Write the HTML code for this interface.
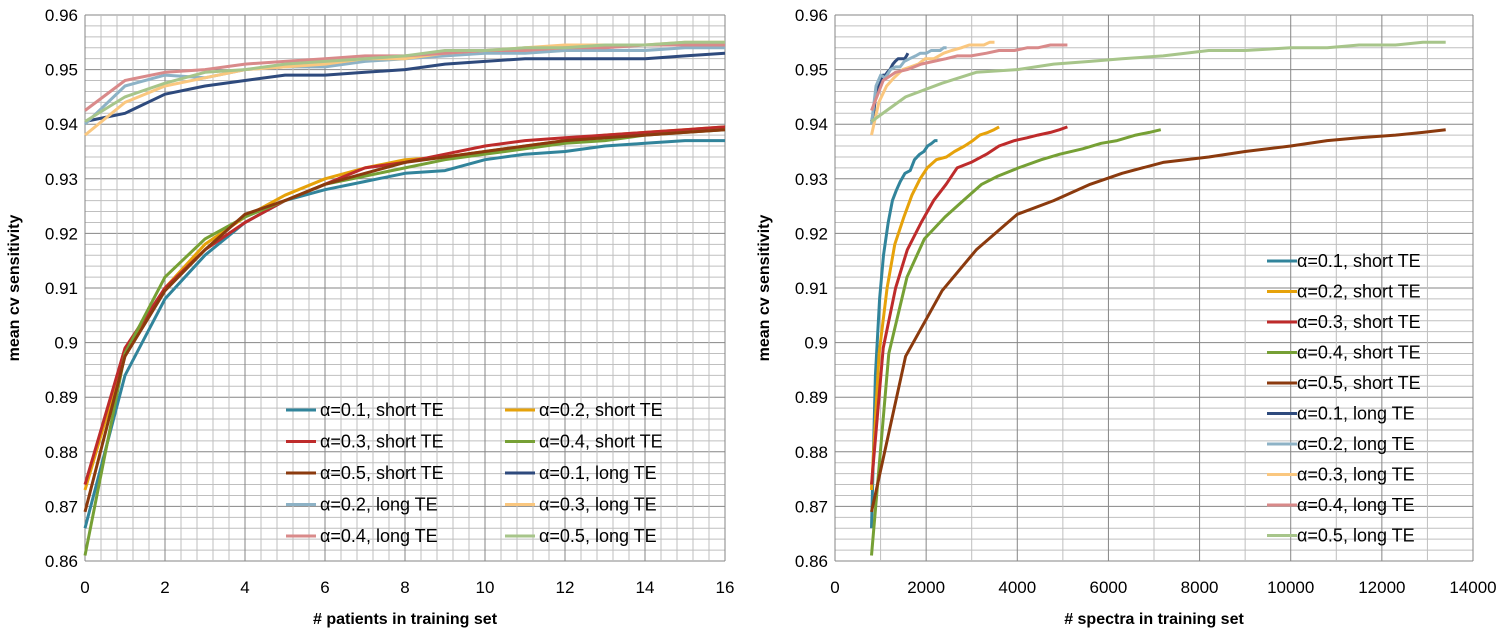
<!DOCTYPE html>
<html><head><meta charset="utf-8">
<style>
html,body{margin:0;padding:0;background:#fff;}
svg{display:block;font-family:"Liberation Sans",sans-serif;}
</style></head>
<body>
<svg id="chart" width="1505" height="633" viewBox="0 0 1505 633" xmlns="http://www.w3.org/2000/svg"></svg>
<script>
const seriesNames = ["α=0.1, short TE","α=0.2, short TE","α=0.3, short TE","α=0.4, short TE","α=0.5, short TE","α=0.1, long TE","α=0.2, long TE","α=0.3, long TE","α=0.4, long TE","α=0.5, long TE"];
const seriesColors = ["#31849B","#E6A20A","#BE2B2B","#76A035","#8B3A0E","#2E4A7D","#8DB2C6","#FAC77F","#D98A8A","#A7C58A"];
const patients = [0,1,2,3,4,5,6,7,8,9,10,11,12,13,14,15,16];
const sens01s = [0.866,0.894,0.908,0.916,0.922,0.926,0.928,0.9295,0.931,0.9315,0.9335,0.9345,0.935,0.936,0.9365,0.937,0.937];
const sens02s = [0.873,0.898,0.910,0.918,0.923,0.927,0.930,0.932,0.9335,0.934,0.935,0.936,0.937,0.938,0.9385,0.939,0.9395];
const sens03s = [0.874,0.899,0.910,0.917,0.922,0.926,0.929,0.932,0.933,0.9345,0.936,0.937,0.9375,0.938,0.9385,0.939,0.9395];
const sens04s = [0.861,0.898,0.912,0.919,0.923,0.926,0.929,0.9305,0.932,0.9335,0.9345,0.9355,0.9365,0.937,0.938,0.9385,0.939];
const sens05s = [0.869,0.8975,0.9095,0.917,0.9235,0.926,0.929,0.931,0.933,0.934,0.935,0.936,0.937,0.9375,0.938,0.9385,0.939];
const sens01l = [0.9405,0.942,0.9455,0.947,0.948,0.949,0.949,0.9495,0.950,0.951,0.9515,0.952,0.952,0.952,0.952,0.9525,0.953];
const sens02l = [0.940,0.947,0.949,0.9485,0.950,0.9505,0.9505,0.9515,0.952,0.9525,0.953,0.953,0.9535,0.9535,0.9535,0.954,0.954];
const sens03l = [0.938,0.944,0.947,0.9485,0.950,0.9505,0.951,0.952,0.952,0.953,0.9535,0.954,0.9545,0.9545,0.9545,0.955,0.955];
const sens04l = [0.9425,0.948,0.9495,0.950,0.951,0.9515,0.952,0.9525,0.9525,0.953,0.9535,0.9535,0.954,0.954,0.9545,0.9545,0.9545];
const sens05l = [0.9405,0.945,0.9475,0.9495,0.950,0.951,0.9515,0.952,0.9525,0.9535,0.9535,0.954,0.954,0.9545,0.9545,0.955,0.955];
const spec01s = [800,887,978,1065,1168,1260,1352,1434,1537,1651,1744,1858,1951,2031,2124,2192,2250];
const spec02s = [800,968,1144,1312,1511,1688,1867,2024,2222,2444,2623,2844,3023,3177,3356,3488,3600];
const spec03s = [800,1058,1329,1587,1892,2163,2438,2679,2984,3324,3599,3939,4214,4451,4726,4928,5100];
const spec04s = [800,1181,1581,1962,2413,2813,3219,3575,4026,4527,4934,5436,5842,6191,6598,6896,7150];
const spec05s = [800,1550,2350,3100,4000,4800,5600,6300,7200,8200,9000,10000,10800,11500,12300,12900,13400];
const spec01l = [800,848,898,946,1003,1054,1105,1150,1206,1270,1321,1384,1435,1479,1530,1568,1600];
const spec02l = [800,899,1003,1102,1219,1323,1429,1521,1638,1769,1874,2005,2110,2201,2306,2384,2450];
const spec03l = [800,962,1132,1294,1486,1656,1829,1980,2172,2385,2558,2771,2944,3092,3265,3392,3500];
const spec04l = [800,1058,1329,1587,1892,2163,2438,2679,2984,3324,3599,3939,4214,4451,4726,4928,5100];
const spec05l = [800,1550,2350,3100,4000,4800,5600,6300,7200,8200,9000,10000,10800,11500,12300,12900,13400];
const yTicks = ["0.86","0.87","0.88","0.89","0.9","0.91","0.92","0.93","0.94","0.95","0.96"];
const xTicksL = ["0","2","4","6","8","10","12","14","16"];
const xTicksR = ["0","2000","4000","6000","8000","10000","12000","14000"];

const sensAll = [sens01s,sens02s,sens03s,sens04s,sens05s,sens01l,sens02l,sens03l,sens04l,sens05l];
const specAll = [spec01s,spec02s,spec03s,spec04s,spec05s,spec01l,spec02l,spec03l,spec04l,spec05l];

const NS="http://www.w3.org/2000/svg";
const svg=document.getElementById('chart');
function mk(tag,attrs,parent){const e=document.createElementNS(NS,tag);for(const k in attrs)e.setAttribute(k,attrs[k]);(parent||svg).appendChild(e);return e;}

const Y0=561,Y1=15,YMIN=0.86,YMAX=0.96;
const yScale=v=>Y0-(v-YMIN)/(YMAX-YMIN)*(Y0-Y1);

function panel(name,left,right,xmax,xMinorStep,xMajorStep,xTicks,xs,title,legendFn){
  const g=mk('g',{});
  
  
  const xScale=v=>left+v/xmax*(right-left);
  for(let i=0;i<=50;i++){const v=YMIN+i*0.002;const y=yScale(v);
    mk('line',{x1:left,x2:right,y1:y,y2:y,stroke:i%5==0?'#868686':'#BFBFBF','stroke-width':1},g);}
  for(let v=0;v<=xmax+1e-9;v+=xMinorStep){const x=xScale(v);const major=Math.abs(v/xMajorStep-Math.round(v/xMajorStep))<1e-6;
    mk('line',{x1:x,x2:x,y1:Y1,y2:Y0,stroke:major?'#868686':'#BFBFBF','stroke-width':1},g);}
  yTicks.forEach(t=>{const tx=mk('text',{x:left-7,y:yScale(parseFloat(t))+6,'text-anchor':'end','font-size':17,fill:'#000'},g);tx.textContent=t;
    
    });
  xTicks.forEach(t=>{const tx=mk('text',{x:xScale(parseFloat(t)),y:Y0+32,'text-anchor':'middle','font-size':17,fill:'#000'},g);tx.textContent=t;
    
    });
  sensAll.forEach((ys,i)=>{const xv=xs(i);
    const pts=ys.map((v,k)=>xScale(xv[k]).toFixed(1)+','+yScale(v).toFixed(1)).join(' ');
    const pl=mk('polyline',{points:pts,fill:'none',stroke:seriesColors[i],'stroke-width':3,'stroke-linejoin':'round'},g);
    
    });
  const yt=mk('text',{x:0,y:0,transform:`translate(${left-66},${(Y0+Y1)/2}) rotate(-90)`,'text-anchor':'middle','font-size':16,'font-weight':'bold',fill:'#000'},g);
  yt.textContent='mean cv sensitivity';
  
  
  const xt=mk('text',{x:(left+right)/2,y:624,'text-anchor':'middle','font-size':16,'font-weight':'bold',fill:'#000'},g);
  xt.textContent=title;
  
  
  legendFn(g);
}

panel('left-chart',85,725,16,0.4,2,xTicksL,()=>patients,'# patients in training set',g=>{
  const lg=mk('g',{},g);
  
  
  seriesNames.forEach((n,i)=>{const col=i%2,row=Math.floor(i/2);
    const x=286+col*219,y=410+row*31.5;
    const e=mk('g',{},lg);
    
    
    mk('line',{x1:x,x2:x+30,y1:y,y2:y,stroke:seriesColors[i],'stroke-width':3},e);
    const t=mk('text',{x:x+34,y:y+6,'font-size':18,fill:'#000'},e);t.textContent=n;});
});
panel('right-chart',835,1473,14000,1000,2000,xTicksR,i=>specAll[i],'# spectra in training set',g=>{
  const lg=mk('g',{},g);
  
  
  seriesNames.forEach((n,i)=>{const x=1267,y=261+i*30.5;
    const e=mk('g',{},lg);
    
    
    mk('line',{x1:x,x2:x+30,y1:y,y2:y,stroke:seriesColors[i],'stroke-width':3},e);
    const t=mk('text',{x:x+30,y:y+6,'font-size':18,fill:'#000'},e);t.textContent=n;});
});
</script>
</body></html>
